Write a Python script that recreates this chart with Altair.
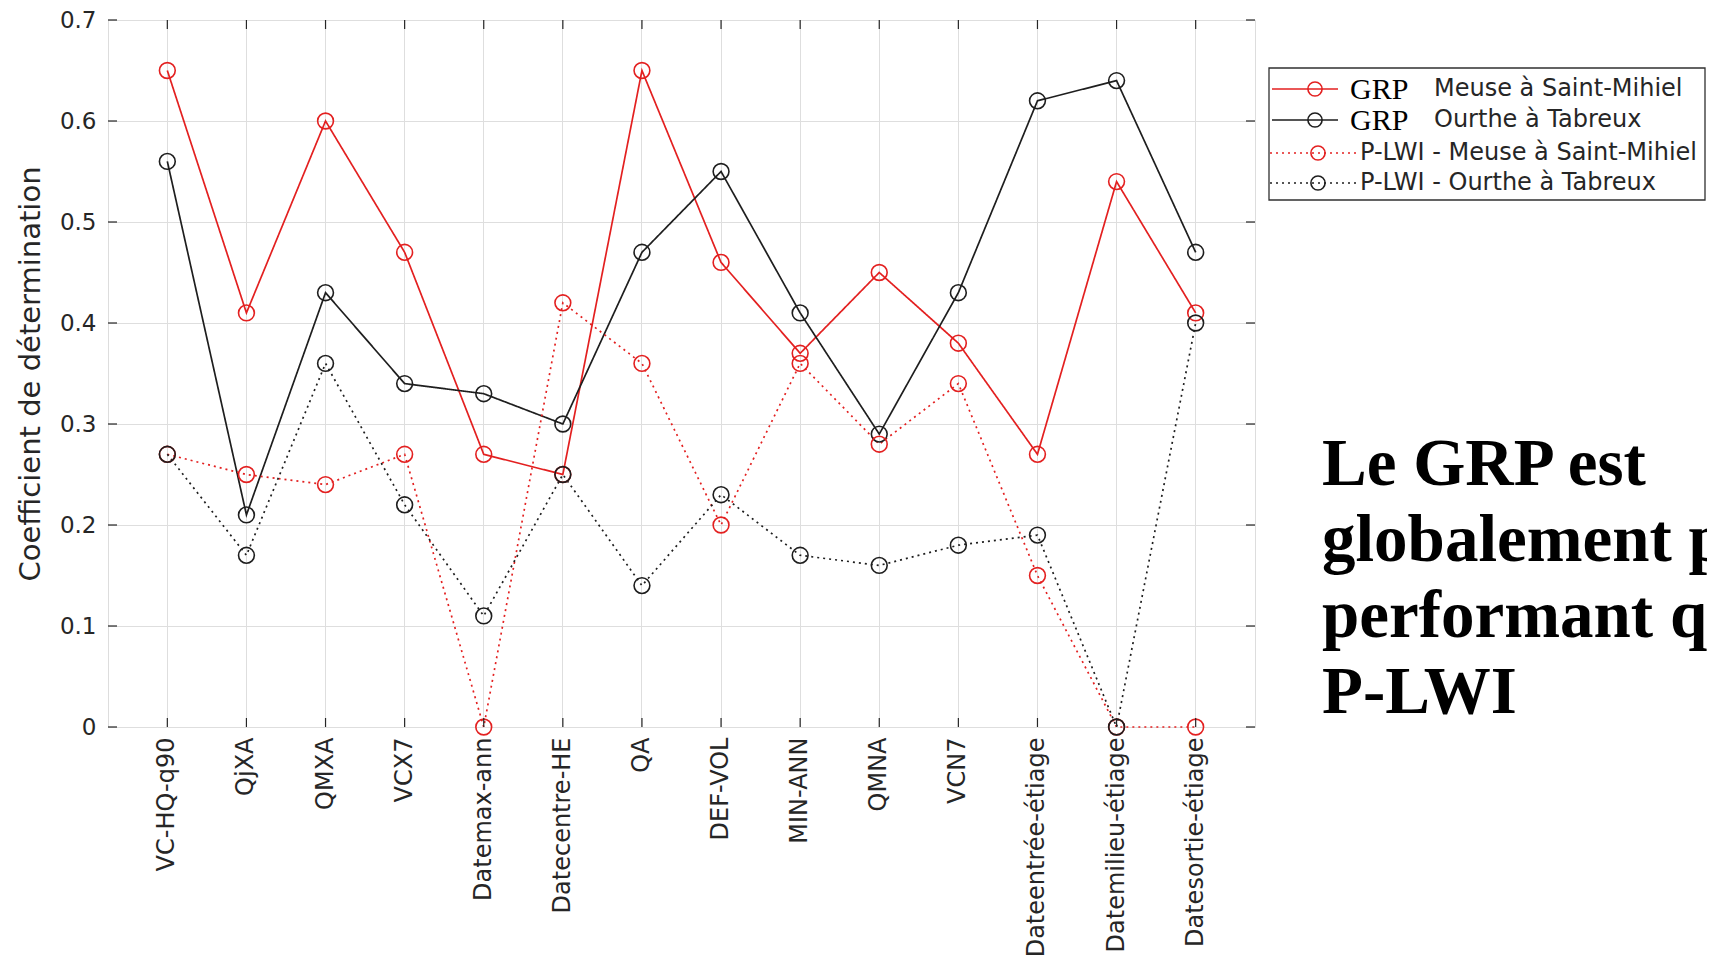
import altair as alt
import pandas as pd

categories = ["VC-HQ-q90", "QjXA", "QMXA", "VCX7", "Datemax-ann", "Datecentre-HE", "QA",
              "DEF-VOL", "MIN-ANN", "QMNA", "VCN7", "Dateentrée-étiage",
              "Datemilieu-étiage", "Datesortie-étiage"]
grp_meuse = [0.65, 0.41, 0.60, 0.47, 0.27, 0.25, 0.65, 0.46, 0.37, 0.45, 0.38, 0.27, 0.54, 0.41]
grp_ourthe = [0.56, 0.21, 0.43, 0.34, 0.33, 0.30, 0.47, 0.55, 0.41, 0.29, 0.43, 0.62, 0.64, 0.47]
plwi_meuse = [0.27, 0.25, 0.24, 0.27, 0.00, 0.42, 0.36, 0.20, 0.36, 0.28, 0.34, 0.15, 0.00, 0.00]
plwi_ourthe = [0.27, 0.17, 0.36, 0.22, 0.11, 0.25, 0.14, 0.23, 0.17, 0.16, 0.18, 0.19, 0.00, 0.40]

series_names = ["GRP Meuse à Saint-Mihiel", "GRP Ourthe à Tabreux",
                "P-LWI - Meuse à Saint-Mihiel", "P-LWI - Ourthe à Tabreux"]
series_values = [grp_meuse, grp_ourthe, plwi_meuse, plwi_ourthe]
series_colors = ["#e32020", "#1e1e1e", "#e32020", "#1e1e1e"]
series_dash = [[1, 0], [1, 0], [2, 4], [2, 4]]

y_ticks = [0, 0.1, 0.2, 0.3, 0.4, 0.5, 0.6, 0.7]

legend_grp = ["GRP", "GRP", "", ""]
legend_text = ["Meuse à Saint-Mihiel", "Ourthe à Tabreux",
               "P-LWI - Meuse à Saint-Mihiel", "P-LWI - Ourthe à Tabreux"]
note_lines = "Le GRP est\nglobalement plus\nperformant que le\nP-LWI"

W, H = 1147, 707
TXT = "#262626"

rows = []
for order, (name, vals) in enumerate(zip(series_names, series_values)):
    for i, (c, v) in enumerate(zip(categories, vals)):
        rows.append({"series": name, "cat": c, "value": v, "order": order, "idx": i})
df = pd.DataFrame(rows)

xscale = alt.Scale(domain=categories, padding=0.5)
yscale = alt.Scale(domain=[0, 0.7], nice=False, zero=False)
cscale = alt.Scale(domain=series_names, range=series_colors)
dscale = alt.Scale(domain=series_names, range=series_dash)

x_enc = alt.X("cat:N", sort=categories, scale=xscale,
              axis=alt.Axis(title=None, labelAngle=-90, labelFontSize=24, labelPadding=10,
                            ticks=False, grid=True, gridColor="#dedede", domain=False,
                            labelColor=TXT, labelFont="DejaVu Sans", labelOverlap=False,
                            labelLimit=400))
y_enc = alt.Y("value:Q", scale=yscale,
              axis=alt.Axis(title="Coefficient de détermination", values=y_ticks, format="~g",
                            labelFontSize=23, labelPadding=12, ticks=False, grid=True,
                            gridColor="#dedede", domain=False, labelColor=TXT,
                            labelFont="DejaVu Sans", titleFont="DejaVu Sans",
                            titleFontSize=29, titleFontWeight="normal", titleColor=TXT,
                            titlePadding=14))

base = alt.Chart(df)
lines = base.mark_line(strokeWidth=1.7).encode(
    x=x_enc, y=y_enc,
    color=alt.Color("series:N", scale=cscale, legend=None),
    strokeDash=alt.StrokeDash("series:N", scale=dscale, legend=None),
    detail="series:N",
    order="idx:Q",
)
points = base.mark_point(filled=False, size=250, strokeWidth=1.6, opacity=1).encode(
    x=alt.X("cat:N", sort=categories, scale=xscale),
    y=alt.Y("value:Q", scale=yscale),
    color=alt.Color("series:N", scale=cscale, legend=None),
)

# inward ticks on all four sides
cat_df = pd.DataFrame({"cat": categories})
yt_df = pd.DataFrame({"value": y_ticks})
xt_bottom = alt.Chart(cat_df).mark_rule(color=TXT, strokeWidth=1.2).encode(
    x=alt.X("cat:N", sort=categories, scale=xscale), y=alt.value(H), y2=alt.value(H - 9))
xt_top = alt.Chart(cat_df).mark_rule(color=TXT, strokeWidth=1.2).encode(
    x=alt.X("cat:N", sort=categories, scale=xscale), y=alt.value(0), y2=alt.value(9))
yt_left = alt.Chart(yt_df).mark_rule(color=TXT, strokeWidth=1.2).encode(
    y=alt.Y("value:Q", scale=yscale), x=alt.value(0), x2=alt.value(9))
yt_right = alt.Chart(yt_df).mark_rule(color=TXT, strokeWidth=1.2).encode(
    y=alt.Y("value:Q", scale=yscale), x=alt.value(W), x2=alt.value(W - 9))

# legend (drawn outside the plot area, to the right)
LX0, LX1, LY0, LY1 = 1161, 1597, 48, 180
row_y = [69, 100, 133, 163]
leg_layers = []
leg_layers.append(alt.Chart(pd.DataFrame({"a": [0]})).mark_rect(
    fill="white", stroke="#303030", strokeWidth=1.3).encode(
    x=alt.value(LX0), x2=alt.value(LX1), y=alt.value(LY0), y2=alt.value(LY1)))
seg = [(1164, 1230, 1207), (1164, 1230, 1207), (1162, 1249, 1210), (1162, 1249, 1210)]
for k in range(4):
    one = pd.DataFrame({"a": [k]})
    x0, x1, xc = seg[k]
    leg_layers.append(alt.Chart(one).mark_rule(
        color=series_colors[k], strokeWidth=1.7, strokeDash=series_dash[k]).encode(
        x=alt.value(x0), x2=alt.value(x1), y=alt.value(row_y[k])))
    leg_layers.append(alt.Chart(one).mark_point(
        filled=False, size=200, strokeWidth=1.6, color=series_colors[k], opacity=1).encode(
        x=alt.value(xc), y=alt.value(row_y[k])))
    if legend_grp[k]:
        leg_layers.append(alt.Chart(one).mark_text(
            text=legend_grp[k], font="Liberation Serif", fontSize=30, color="black",
            align="left", baseline="middle").encode(
            x=alt.value(1242), y=alt.value(row_y[k] + 1)))
        tx = 1326
    else:
        tx = 1252
    leg_layers.append(alt.Chart(one).mark_text(
        text=legend_text[k], font="DejaVu Sans", fontSize=24, color=TXT,
        align="left", baseline="middle").encode(
        x=alt.value(tx), y=alt.value(row_y[k])))

note = alt.Chart(pd.DataFrame({"a": [0]})).mark_text(
    text=note_lines, lineBreak="\n", lineHeight=76, font="Liberation Serif",
    fontWeight="bold", fontSize=67, color="black", align="left",
    baseline="alphabetic").encode(x=alt.value(1214), y=alt.value(465))

chart = alt.layer(lines, points, xt_bottom, xt_top, yt_left, yt_right, *leg_layers, note).properties(
    width=W, height=H,
    autosize=alt.AutoSizeParams(type="none"),
    padding={"left": 100, "top": 12, "right": 452, "bottom": 236},
).configure_view(stroke="#262626", strokeWidth=1.4).configure(background="white")

chart.save("out.html", embed_options={"renderer": "svg", "actions": False})
